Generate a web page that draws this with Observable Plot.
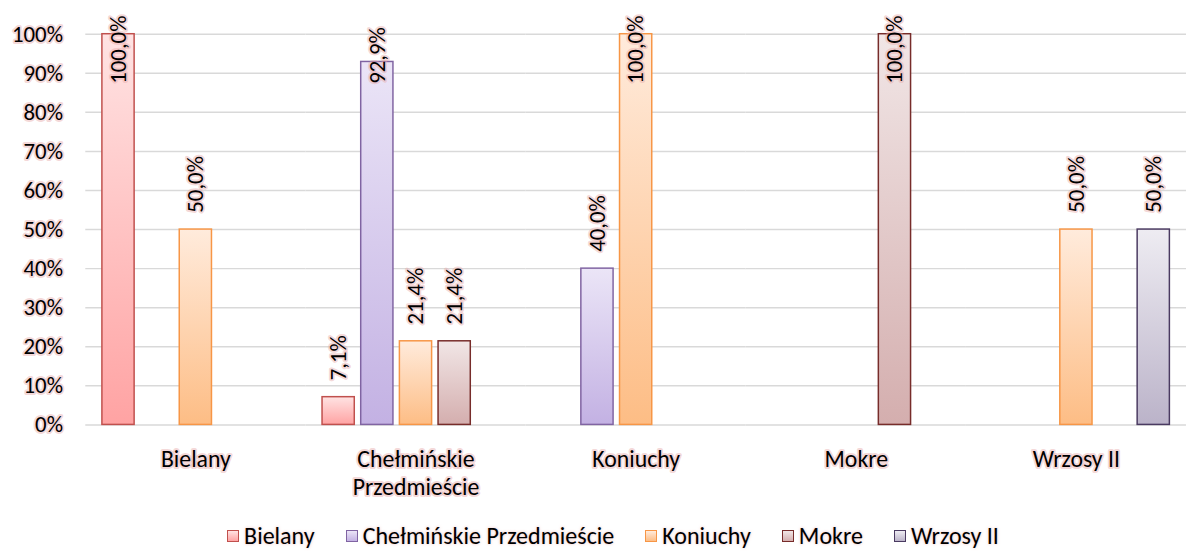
<!DOCTYPE html>
<html>
<head>
<meta charset="utf-8">
<script src="https://cdn.jsdelivr.net/npm/d3@7"></script>
<script src="https://cdn.jsdelivr.net/npm/@observablehq/plot@0.6"></script>
<style>
  html, body { margin: 0; padding: 0; background: #fff; overflow: hidden; }
  body { width: 1186px; height: 554px; font-family: Carlito, Lato, "Liberation Sans", sans-serif; }
  #chart svg text { paint-order: stroke; stroke: rgba(232,170,170,0.45); stroke-width: 4px; stroke-linejoin: round; }
  #legend { display: flex; justify-content: center; align-items: center; font-size: 24px; line-height: 28px; color: #000; height: 28px; margin-top: 13px; padding-left: 40px; }
  #legend .item { display: flex; align-items: center; margin: 0 15.5px; text-shadow: 0 0 3px rgba(220,140,140,0.6); }
  #legend .sw { width: 10px; height: 10px; border: 1.5px solid; margin-right: 5px; }
</style>
</head>
<body>
<div id="chart"></div>
<div id="legend"></div>
<script>
const groups = ["Bielany", "Chełmińskie Przedmieście", "Koniuchy", "Mokre", "Wrzosy II"];
const series = ["Bielany", "Chełmińskie Przedmieście", "Koniuchy", "Mokre", "Wrzosy II"];
// values per series across groups (percent), null = no bar
const valBielany   = [100.0, 7.1, null, null, null];
const valChelm     = [null, 92.9, 40.0, null, null];
const valKoniuchy  = [50.0, 21.4, 100.0, null, 50.0];
const valMokre     = [null, 21.4, null, 100.0, null];
const valWrzosy    = [null, null, null, null, 50.0];
const yTicks = [0, 10, 20, 30, 40, 50, 60, 70, 80, 90, 100];

const seriesValues = [valBielany, valChelm, valKoniuchy, valMokre, valWrzosy];
const styles = [
  {id: "g0", top: "#ffe3e3", bottom: "#ffa3a3", stroke: "#c0504d"},
  {id: "g1", top: "#ebe5f7", bottom: "#c3b1e3", stroke: "#8064a2"},
  {id: "g2", top: "#ffebdc", bottom: "#fdbd85", stroke: "#f79646"},
  {id: "g3", top: "#f1e6e6", bottom: "#d4aeae", stroke: "#772c2a"},
  {id: "g4", top: "#eeecf2", bottom: "#bbb3c9", stroke: "#4a3a61"}
];

const data = [];
series.forEach((s, si) => {
  seriesValues[si].forEach((v, gi) => {
    if (v != null) data.push({group: groups[gi], series: s, v});
  });
});

const fmt = v => v.toFixed(1).replace(".", ",") + "%";

const marks = [
  Plot.gridY(yTicks, {stroke: "#d9d9d9", strokeOpacity: 1, strokeWidth: 1.5}),
  Plot.axisY(yTicks, {tickFormat: d => d + "%", tickSize: 0, tickPadding: 23, fontSize: 23, label: null}),
  Plot.axisFx({anchor: "bottom", tickSize: 0, tickPadding: 23, fontSize: 24, lineHeight: 1.15, label: null,
       tickFormat: d => d === "Chełmińskie Przedmieście" ? "Chełmińskie\nPrzedmieście" : d}),
  ...series.map((s, si) => Plot.barY(data.filter(d => d.series === s), {
    fx: "group", x: "series", y: "v",
    fill: `url(#${styles[si].id})`, stroke: styles[si].stroke, strokeWidth: 1.5, insetLeft: 0.75, insetRight: 0.75
  })),
  Plot.text(data, {
    fx: "group", x: "series", y: d => Math.min(d.v, 83), dy: -17,
    text: d => fmt(d.v), rotate: -90, textAnchor: "start", lineAnchor: "middle",
    fontSize: 23, fill: "#000"
  })
];

const plot = Plot.plot({
  width: 1196,
  height: 513,
  marginLeft: 86,
  marginRight: 0,
  marginTop: 34,
  marginBottom: 85,
  style: {fontFamily: "Carlito, Lato, 'Liberation Sans', sans-serif", fontSize: "23px", color: "#000", background: "transparent", overflow: "visible"},
  fx: {domain: groups, padding: 0},
  x: {domain: series, paddingInner: 0.14, paddingOuter: 0.387, axis: null},
  y: {domain: [0, 100]},
  marks
});

// gradient definitions
const ns = "http://www.w3.org/2000/svg";
const defs = document.createElementNS(ns, "defs");
styles.forEach(st => {
  const lg = document.createElementNS(ns, "linearGradient");
  lg.setAttribute("id", st.id);
  lg.setAttribute("x1", "0"); lg.setAttribute("y1", "0");
  lg.setAttribute("x2", "0"); lg.setAttribute("y2", "1");
  [[0, st.top], [1, st.bottom]].forEach(([o, c]) => {
    const stop = document.createElementNS(ns, "stop");
    stop.setAttribute("offset", o);
    stop.setAttribute("stop-color", c);
    lg.appendChild(stop);
  });
  defs.appendChild(lg);
});
plot.insertBefore(defs, plot.firstChild);
document.getElementById("chart").appendChild(plot);

// legend
const legend = document.getElementById("legend");
series.forEach((s, si) => {
  const it = document.createElement("div");
  it.className = "item";
  const sw = document.createElement("span");
  sw.className = "sw";
  sw.style.borderColor = styles[si].stroke;
  sw.style.background = `linear-gradient(${styles[si].top}, ${styles[si].bottom})`;
  const lab = document.createElement("span");
  lab.textContent = s;
  it.appendChild(sw); it.appendChild(lab);
  legend.appendChild(it);
});
</script>
</body>
</html>
